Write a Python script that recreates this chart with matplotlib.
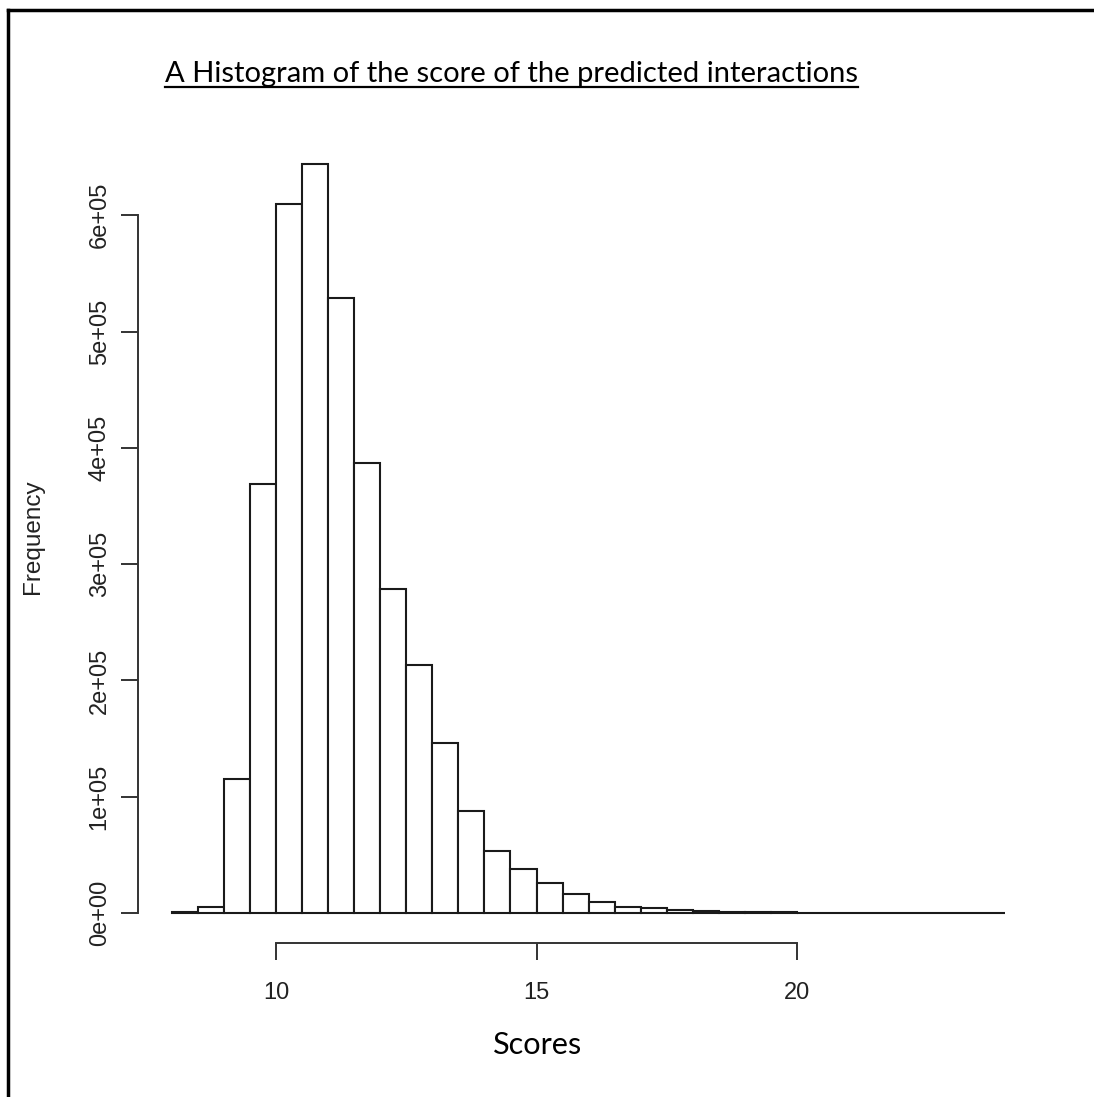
import numpy as np
import matplotlib
matplotlib.use("Agg")
import matplotlib.pyplot as plt
from matplotlib.lines import Line2D

# datos del histograma (bins de 0.5 entre 8 y 24)
bin_edges = [8.0, 8.5, 9.0, 9.5, 10.0, 10.5, 11.0, 11.5, 12.0, 12.5, 13.0, 13.5,
             14.0, 14.5, 15.0, 15.5, 16.0, 16.5, 17.0, 17.5, 18.0, 18.5, 19.0,
             19.5, 20.0, 20.5, 21.0, 21.5, 22.0, 22.5, 23.0, 23.5, 24.0]
counts = [1000, 5000, 115000, 369000, 610000, 644000, 529000, 387000, 279000,
          213000, 146000, 88000, 53000, 38000, 26000, 16000, 9700, 5400, 4000,
          2800, 1800, 1200, 800, 500, 300, 200, 150, 100, 80, 60, 40, 30]
x_ticks = [10, 15, 20]
y_ticks = [0, 100000, 200000, 300000, 400000, 500000, 600000]
y_labels = ["0e+00", "1e+05", "2e+05", "3e+05", "4e+05", "5e+05", "6e+05"]

title = "A Histogram of the score of the predicted interactions"
xlabel = "Scores"
ylabel = "Frequency"

W, H = 1094, 1097
fig = plt.figure(figsize=(W / 100, H / 100), dpi=100)

# rango como en R (4% extra)
edges = np.array(bin_edges)
xr = edges[-1] - edges[0]
xlim = (edges[0] - 0.04 * xr, edges[-1] + 0.04 * xr)
yr = max(counts)
ylim = (-0.04 * yr, yr * 1.04)

ax = fig.add_axes([138.5 / W, 1 - 943 / H, 900.2 / W, (943 - 134.1) / H])
ax.bar(edges[:-1], counts, width=np.diff(edges), align="edge",
       facecolor="white", edgecolor="#1a1a1a", linewidth=1.5)
ax.set_xlim(xlim)
ax.set_ylim(ylim)

for s in ["top", "right"]:
    ax.spines[s].set_visible(False)
ax.spines["left"].set_bounds(y_ticks[0], y_ticks[-1])
ax.spines["bottom"].set_bounds(x_ticks[0], x_ticks[-1])
for s in ["left", "bottom"]:
    ax.spines[s].set_linewidth(1.4)
    ax.spines[s].set_color("#333333")

ax.set_xticks(x_ticks, [str(t) for t in x_ticks])
ax.set_yticks(y_ticks, y_labels)
ax.tick_params(axis="x", length=12, width=1.4, color="#333333", pad=16,
               labelsize=17, labelfontfamily="Liberation Sans",
               labelcolor="#222222")
ax.tick_params(axis="y", length=12, width=1.4, color="#333333", pad=8,
               labelsize=17, labelfontfamily="Liberation Sans",
               labelcolor="#222222", labelrotation=90)
for lab in ax.get_yticklabels():
    lab.set_va("center")

# etiqueta eje y
fig.text(33 / W, 1 - 537 / H, ylabel, rotation=90, ha="center", va="center",
         fontfamily="Liberation Sans", fontsize=17.5, color="#222222")

# titulo subrayado (ajustado al ancho del original)
t = fig.text(165 / W, 1 - 82 / H, title, ha="left", va="baseline",
             fontfamily="Lato", fontsize=22)
r = fig.canvas.get_renderer()
wpx = t.get_window_extent(r).width
fs = 22 * 690 / wpx
t.set_fontsize(fs)
wpx = t.get_window_extent(r).width
fig.add_artist(Line2D([165 / W, (165 + wpx) / W], [1 - 87 / H, 1 - 87 / H],
                      transform=fig.transFigure, color="black", linewidth=1.6))

fig.text(538 / W, 1 - 1045 / H, xlabel, ha="center", va="center",
         fontfamily="Lato", fontsize=fs * 1.05)

# marco
fig.add_artist(Line2D([8 / W, 8 / W], [0, 1 - 10 / H], transform=fig.transFigure,
                      color="black", linewidth=2.5))
fig.add_artist(Line2D([8 / W, 1], [1 - 10 / H, 1 - 10 / H],
                      transform=fig.transFigure, color="black", linewidth=2.5))

fig.savefig("out.png", dpi=100, facecolor="white")
